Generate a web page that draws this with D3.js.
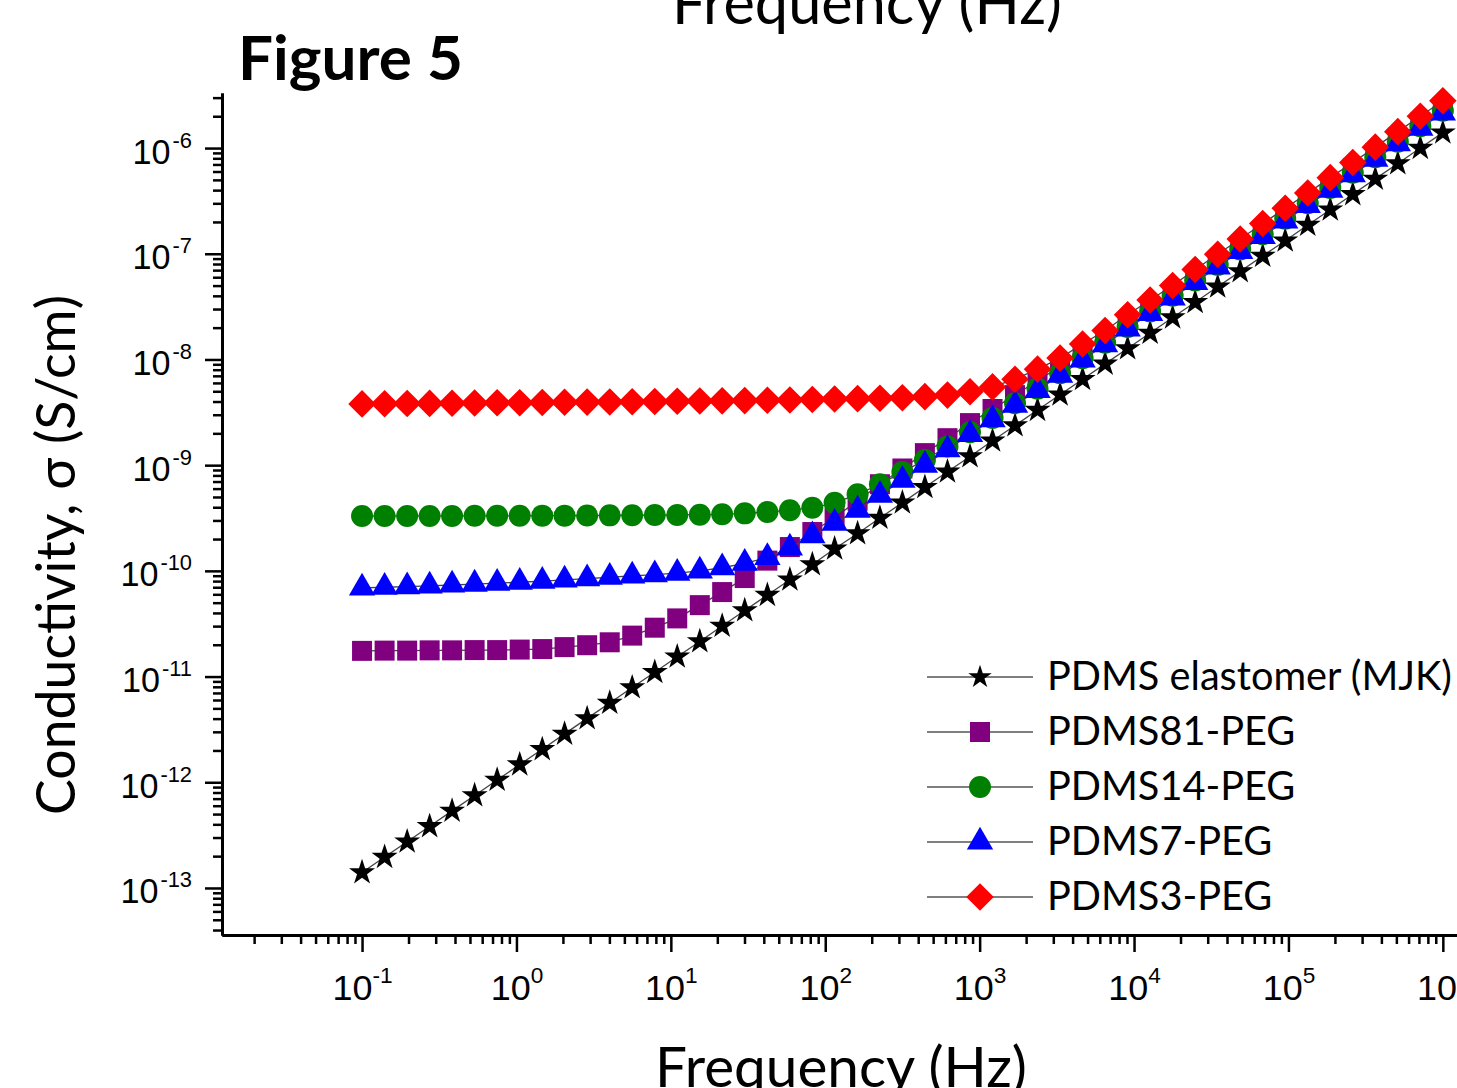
<!DOCTYPE html>
<html>
<head>
<meta charset="utf-8">
<script src="https://cdn.jsdelivr.net/npm/d3@7.9.0/dist/d3.min.js"></script>
<style>
  html, body { margin: 0; padding: 0; background: #fff; overflow: hidden; }
  svg { display: block; }
</style>
</head>
<body>
<svg id="chart" width="1457" height="1088"></svg>
<script>
const freq = [0.1, 0.14, 0.196, 0.274, 0.383, 0.536, 0.75, 1.05, 1.47, 2.05, 2.87, 4.02, 5.62, 7.87,
  11.0, 15.4, 21.5, 30.1, 42.2, 59.0, 82.5, 115, 162, 226, 316, 442, 619, 866,
  1212, 1695, 2371, 3318, 4642, 6494, 9085, 12710, 17783, 24880, 34810, 48697, 68129, 95310,
  133352, 186560, 261016, 365174, 510897, 714770, 1000000];

// Conductivity (S/cm) per sample
const sigmaElastomer = [1.40e-13, 1.96e-13, 2.74e-13, 3.83e-13, 5.36e-13, 7.50e-13, 1.05e-12, 1.47e-12, 2.05e-12, 2.87e-12,
  4.02e-12, 5.62e-12, 7.87e-12, 1.10e-11, 1.54e-11, 2.15e-11, 3.01e-11, 4.22e-11, 5.90e-11, 8.25e-11,
  1.15e-10, 1.62e-10, 2.26e-10, 3.16e-10, 4.42e-10, 6.19e-10, 8.66e-10, 1.21e-9, 1.70e-9, 2.37e-9,
  3.32e-9, 4.64e-9, 6.49e-9, 9.09e-9, 1.27e-8, 1.78e-8, 2.49e-8, 3.48e-8, 4.87e-8, 6.81e-8,
  9.53e-8, 1.33e-7, 1.87e-7, 2.61e-7, 3.65e-7, 5.11e-7, 7.15e-7, 1.00e-6, 1.40e-6];

const sigmaPDMS81 = [1.75e-11, 1.76e-11, 1.76e-11, 1.77e-11, 1.77e-11, 1.78e-11, 1.78e-11, 1.80e-11, 1.82e-11, 1.90e-11,
  1.98e-11, 2.11e-11, 2.44e-11, 2.90e-11, 3.55e-11, 4.74e-11, 6.30e-11, 8.55e-11, 1.25e-10, 1.68e-10,
  2.33e-10, 3.20e-10, 4.60e-10, 6.60e-10, 9.30e-10, 1.30e-9, 1.80e-9, 2.50e-9, 3.40e-9, 4.60e-9,
  6.30e-9, 8.60e-9, 1.18e-8, 1.60e-8, 2.20e-8, 3.10e-8, 4.35e-8, 6.10e-8, 8.50e-8, 1.19e-7,
  1.67e-7, 2.33e-7, 3.27e-7, 4.57e-7, 6.40e-7, 8.95e-7, 1.25e-6, 1.75e-6, 2.45e-6];

const sigmaPDMS14 = [3.30e-10, 3.30e-10, 3.31e-10, 3.31e-10, 3.31e-10, 3.32e-10, 3.32e-10, 3.32e-10, 3.33e-10, 3.33e-10,
  3.34e-10, 3.35e-10, 3.36e-10, 3.37e-10, 3.38e-10, 3.40e-10, 3.43e-10, 3.50e-10, 3.60e-10, 3.75e-10,
  3.95e-10, 4.40e-10, 5.30e-10, 6.60e-10, 8.60e-10, 1.12e-9, 1.50e-9, 2.05e-9, 2.80e-9, 3.85e-9,
  5.30e-9, 7.40e-9, 1.03e-8, 1.44e-8, 2.03e-8, 2.85e-8, 4.00e-8, 5.60e-8, 7.85e-8, 1.10e-7,
  1.53e-7, 2.15e-7, 3.00e-7, 4.20e-7, 5.85e-7, 8.20e-7, 1.15e-6, 1.61e-6, 2.25e-6];

const sigmaPDMS7 = [6.90e-11, 7.00e-11, 7.10e-11, 7.20e-11, 7.35e-11, 7.50e-11, 7.65e-11, 7.80e-11, 8.00e-11, 8.20e-11,
  8.45e-11, 8.70e-11, 8.95e-11, 9.20e-11, 9.50e-11, 1.00e-10, 1.07e-10, 1.18e-10, 1.34e-10, 1.65e-10,
  2.15e-10, 2.83e-10, 3.76e-10, 5.20e-10, 7.20e-10, 1.00e-9, 1.40e-9, 1.95e-9, 2.70e-9, 3.70e-9,
  5.10e-9, 7.10e-9, 9.90e-9, 1.38e-8, 1.95e-8, 2.73e-8, 3.82e-8, 5.35e-8, 7.50e-8, 1.05e-7,
  1.46e-7, 2.05e-7, 2.87e-7, 4.00e-7, 5.60e-7, 7.85e-7, 1.10e-6, 1.54e-6, 2.15e-6];

const sigmaPDMS3 = [3.80e-9, 3.81e-9, 3.83e-9, 3.84e-9, 3.86e-9, 3.87e-9, 3.89e-9, 3.90e-9, 3.92e-9, 3.93e-9,
  3.95e-9, 3.96e-9, 3.98e-9, 4.00e-9, 4.02e-9, 4.04e-9, 4.06e-9, 4.08e-9, 4.11e-9, 4.14e-9,
  4.18e-9, 4.22e-9, 4.26e-9, 4.30e-9, 4.35e-9, 4.45e-9, 4.60e-9, 4.95e-9, 5.50e-9, 6.50e-9,
  8.10e-9, 1.03e-8, 1.40e-8, 1.88e-8, 2.65e-8, 3.65e-8, 5.00e-8, 7.10e-8, 9.90e-8, 1.38e-7,
  1.93e-7, 2.70e-7, 3.75e-7, 5.25e-7, 7.30e-7, 1.02e-6, 1.43e-6, 2.00e-6, 2.80e-6];

const seriesNames = ["PDMS elastomer (MJK)", "PDMS81-PEG", "PDMS14-PEG", "PDMS7-PEG", "PDMS3-PEG"];
const seriesColors = ["#000000", "#800080", "#008000", "#0000ff", "#ff0000"];
const xMajorExp = [-1, 0, 1, 2, 3, 4, 5, 6];
const yMajorExp = [-13, -12, -11, -10, -9, -8, -7, -6];

const series = [
  { name: seriesNames[0], values: sigmaElastomer, color: seriesColors[0], type: d3.symbolStar, size: 210, rot: 0 },
  { name: seriesNames[1], values: sigmaPDMS81, color: seriesColors[1], type: d3.symbolSquare, size: 400, rot: 0 },
  { name: seriesNames[2], values: sigmaPDMS14, color: seriesColors[2], type: d3.symbolCircle, size: 380, rot: 0 },
  { name: seriesNames[3], values: sigmaPDMS7, color: seriesColors[3], type: d3.symbolTriangle, size: 300, rot: 0 },
  { name: seriesNames[4], values: sigmaPDMS3, color: seriesColors[4], type: d3.symbolSquare, size: 380, rot: 45 }
];

const svg = d3.select("#chart");
const sansTitle = "Lato, 'Open Sans', sans-serif";
const sansTick = "'Liberation Sans', Arial, Helvetica, sans-serif";

// size the tick font from a measured "10"
const probe = svg.append("text").style("font-family", sansTick).style("font-size", "100px").text("10");
const tenPer100 = probe.node().getComputedTextLength();
probe.remove();
const xTickFs = 100 * 40 / tenPer100;
const yTickFs = 100 * 38 / tenPer100;

// scales: fixed pixels per decade, right end runs off the page like the source
const x0 = 222, yBase = 935;
const xLo = -1.907, xHi = 6.6;
const yLo = -13.445, yHi = -5.48;
const x = d3.scaleLog().domain([10 ** xLo, 10 ** xHi]).range([x0, x0 + (xHi - xLo) * 154.4]);
const y = d3.scaleLog().domain([10 ** yLo, 10 ** yHi]).range([yBase, yBase - (yHi - yLo) * 105.7]);

function minorTicks(lo, hi) {
  const out = [];
  for (let k = Math.floor(lo); k <= Math.ceil(hi); k++) {
    for (let m = 2; m <= 9; m++) {
      const v = m * 10 ** k;
      if (Math.log10(v) > lo && Math.log10(v) < hi) out.push(v);
    }
  }
  return out;
}

function styleAxis(g) {
  g.select(".domain").attr("stroke", "#000").attr("stroke-width", 3);
  g.selectAll(".tick line").attr("stroke", "#000").attr("stroke-width", 2.5);
}

// x axis
const gx = svg.append("g").attr("transform", `translate(0,${yBase})`);
gx.append("g")
  .call(d3.axisBottom(x).tickValues(minorTicks(xLo, xHi)).tickSize(9).tickSizeOuter(0).tickFormat(""))
  .call(styleAxis);
const gxMajor = gx.append("g")
  .call(d3.axisBottom(x).tickValues(xMajorExp.map(e => 10 ** e)).tickSize(17).tickSizeOuter(0).tickFormat(""))
  .call(styleAxis);
gxMajor.selectAll(".tick text").remove();
gxMajor.selectAll(".tick").each(function (d) {
  const t = d3.select(this).append("text")
    .attr("y", 65).attr("fill", "#000").attr("text-anchor", "middle")
    .style("font-family", sansTick).style("font-size", xTickFs + "px");
  t.append("tspan").text("10");
  t.append("tspan").attr("dy", -17).style("font-size", (xTickFs * 0.63) + "px").text(Math.round(Math.log10(d)));
});

// y axis
const gy = svg.append("g").attr("transform", `translate(${x0},0)`);
gy.append("g")
  .call(d3.axisLeft(y).tickValues(minorTicks(yLo, yHi)).tickSize(9).tickSizeOuter(0).tickFormat(""))
  .call(styleAxis);
const gyMajor = gy.append("g")
  .call(d3.axisLeft(y).tickValues(yMajorExp.map(e => 10 ** e)).tickSize(17).tickSizeOuter(0).tickFormat(""))
  .call(styleAxis);
gyMajor.selectAll(".tick text").remove();
gyMajor.selectAll(".tick").each(function (d) {
  const t = d3.select(this).append("text")
    .attr("x", -30).attr("y", 15).attr("fill", "#000").attr("text-anchor", "end")
    .style("font-family", sansTick).style("font-size", yTickFs + "px");
  t.append("tspan").text("10");
  t.append("tspan").attr("dx", 2).attr("dy", -16).style("font-size", (yTickFs * 0.64) + "px").text(Math.round(Math.log10(d)));
});

// series: thin connecting line, then markers
const line = d3.line().x((d, i) => x(freq[i])).y(d => y(d));
series.forEach(s => {
  const g = svg.append("g");
  g.append("path").attr("d", line(s.values))
    .attr("fill", "none").attr("stroke", "#444").attr("stroke-width", 1.3);
  g.selectAll("path.mk").data(s.values).join("path")
    .attr("class", "mk")
    .attr("d", d3.symbol().type(s.type).size(s.size))
    .attr("transform", (d, i) => `translate(${x(freq[i])},${y(d)}) rotate(${s.rot})`)
    .attr("fill", s.color);
});

// legend
const legend = svg.append("g").attr("transform", "translate(927,677)");
series.forEach((s, i) => {
  const row = legend.append("g").attr("transform", `translate(0,${i * 55})`);
  row.append("line").attr("x1", 0).attr("x2", 106).attr("stroke", "#555").attr("stroke-width", 1.5);
  row.append("path")
    .attr("d", d3.symbol().type(s.type).size(i === 0 ? 170 : s.size))
    .attr("transform", `translate(53,0) rotate(${s.rot})`)
    .attr("fill", s.color);
  row.append("text").attr("class", "legtext")
    .attr("x", 120).attr("y", 13).attr("fill", "#000")
    .style("font-family", sansTitle).style("font-size", "38px")
    .text(s.name);
});

function fitWidth(sel, width) {
  const fs = parseFloat(sel.style("font-size"));
  const w = sel.node().getComputedTextLength();
  sel.style("font-size", (fs * width / w) + "px");
}
const legTexts = legend.selectAll(".legtext");
const firstLeg = d3.select(legTexts.nodes()[0]);
fitWidth(firstLeg, 405);
legTexts.style("font-size", firstLeg.style("font-size"));

// titles
const yTitle = svg.append("text")
  .attr("transform", "translate(75,555) rotate(-90)")
  .attr("text-anchor", "middle").attr("fill", "#000")
  .style("font-family", sansTitle).style("font-size", "55px")
  .text("Conductivity, σ (S/cm)");
fitWidth(yTitle, 520);

const xTitle = svg.append("text")
  .attr("x", 841).attr("y", 1087)
  .attr("text-anchor", "middle").attr("fill", "#000")
  .style("font-family", sansTitle).style("font-size", "60px")
  .text("Frequency (Hz)");
fitWidth(xTitle, 372);

// leftover of the panel above, cut by the page edge
const topTitle = svg.append("text")
  .attr("x", 867).attr("y", 24)
  .attr("text-anchor", "middle").attr("fill", "#000")
  .style("font-family", sansTitle).style("font-size", "62px")
  .text("Frequency (Hz)");
fitWidth(topTitle, 390);

const fig = svg.append("text")
  .attr("x", 238).attr("y", 80).attr("fill", "#000")
  .style("font-family", sansTitle).style("font-weight", "bold").style("font-size", "64px")
  .text("Figure 5");
fitWidth(fig, 225);
</script>
</body>
</html>
